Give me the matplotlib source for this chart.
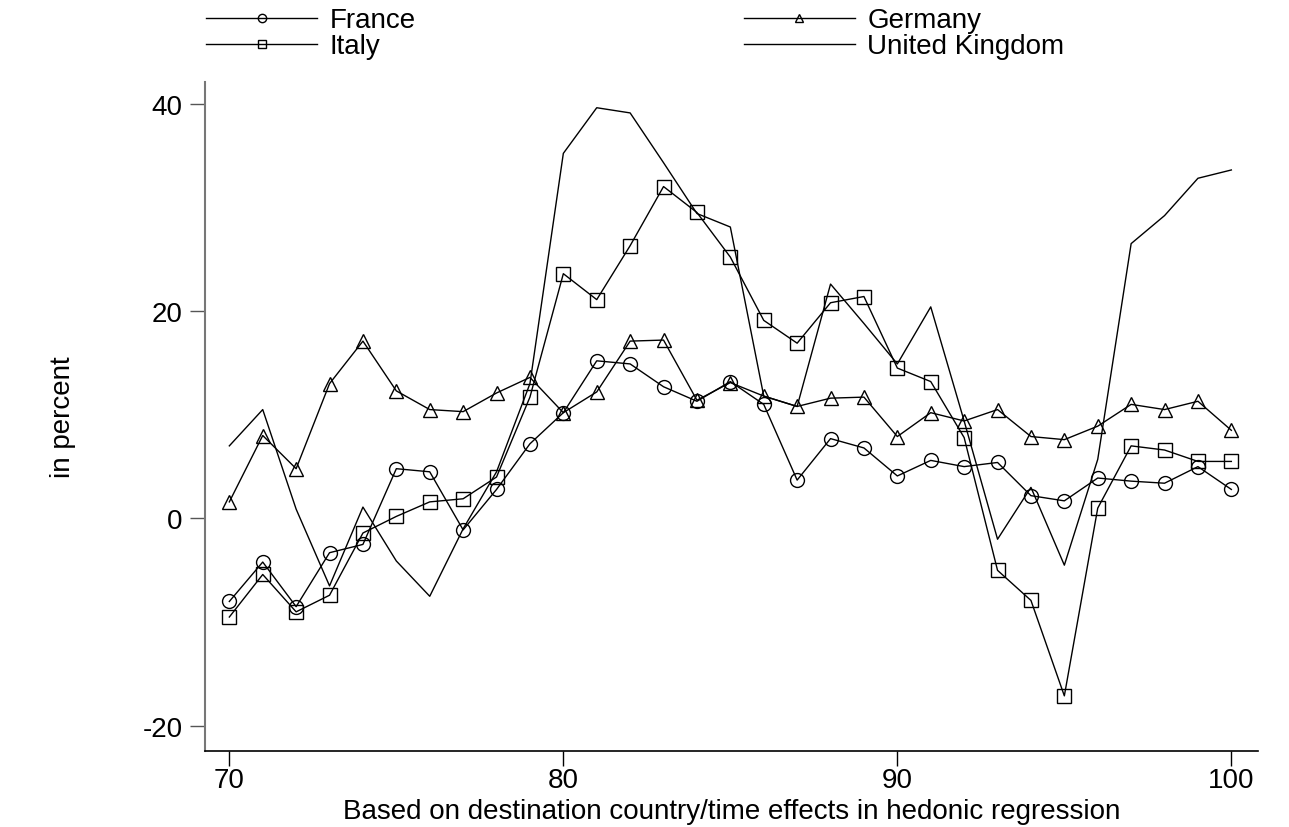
import matplotlib
matplotlib.use("Agg")
from matplotlib import pyplot as plt

plt.rcParams['font.family'] = ['Liberation Sans', 'DejaVu Sans']
plt.rcParams['axes.unicode_minus'] = False

years = list(range(70, 101))

france = [-8.0, -4.2, -8.5, -3.3, -2.5, 4.8, 4.5, -1.1, 2.8, 7.2,
          10.2, 15.2, 14.9, 12.7, 11.3, 13.2, 11.0, 3.7, 7.7, 6.8,
          4.1, 5.6, 5.0, 5.4, 2.2, 1.7, 3.9, 3.6, 3.4, 5.0, 2.8]
germany = [1.6, 8.0, 4.8, 13.0, 17.1, 12.3, 10.5, 10.3, 12.1, 13.6,
           10.2, 12.2, 17.1, 17.2, 11.4, 13.1, 11.8, 10.8, 11.6, 11.7,
           7.9, 10.2, 9.4, 10.5, 7.9, 7.6, 8.9, 11.0, 10.5, 11.3, 8.5]
italy = [-9.5, -5.4, -9.0, -7.4, -1.4, 0.2, 1.6, 1.9, 4.0, 11.7,
         23.6, 21.1, 26.3, 32.0, 29.5, 25.2, 19.1, 16.9, 20.8, 21.4,
         14.5, 13.2, 7.8, -5.0, -7.9, -17.1, 1.0, 7.0, 6.6, 5.5, 5.5]
uk = [7.0, 10.5, 0.9, -6.5, 1.1, -4.1, -7.5, -1.0, 4.5, 13.0,
      35.2, 39.6, 39.1, 34.3, 29.4, 28.1, 11.8, 10.8, 22.6, 18.8,
      14.9, 20.4, 9.4, -2.0, 3.0, -4.5, 5.7, 26.5, 29.2, 32.8, 33.6]

fig = plt.figure(figsize=(12.89, 8.28), dpi=100)
ax = fig.add_axes([0.159, 0.092, 0.817, 0.808])

style = dict(color='black', linewidth=1.0, markersize=10,
             markerfacecolor='none', markeredgecolor='black', markeredgewidth=1.0)

l1, = ax.plot(years, france, marker='o', label='France', **style)
l3, = ax.plot(years, germany, marker='^', label='Germany', **style)
l2, = ax.plot(years, italy, marker='s', label='Italy', **style)
l4, = ax.plot(years, uk, marker='', label='United Kingdom', **style)

ax.set_xlim(69.27, 100.8)
ax.set_ylim(-22.4, 42.1)
ax.set_xticks([70, 80, 90, 100])
ax.set_yticks([-20, 0, 20, 40])
ax.tick_params(axis='both', direction='out', length=11, width=1, labelsize=20)
ax.tick_params(axis='x', pad=1)
ax.tick_params(axis='y', pad=5, colors='#555555', labelcolor='black')

for s in ['top', 'right']:
    ax.spines[s].set_visible(False)
ax.spines['left'].set_color('#777777')
ax.spines['left'].set_linewidth(1.5)
ax.spines['bottom'].set_linewidth(1.2)

ax.set_xlabel('Based on destination country/time effects in hedonic regression',
              fontsize=20, labelpad=3)
ax.set_ylabel('in percent', fontsize=20, labelpad=48)

fig.legend(handles=[l1, l2, l3, l4], ncol=2, loc='upper left',
           bbox_to_anchor=(0.1406, 1.02), frameon=False, fontsize=20,
           handlelength=4.0, handletextpad=0.45, columnspacing=11.8,
           labelspacing=0.0, markerscale=0.6)

fig.savefig('out.png', dpi=100)
